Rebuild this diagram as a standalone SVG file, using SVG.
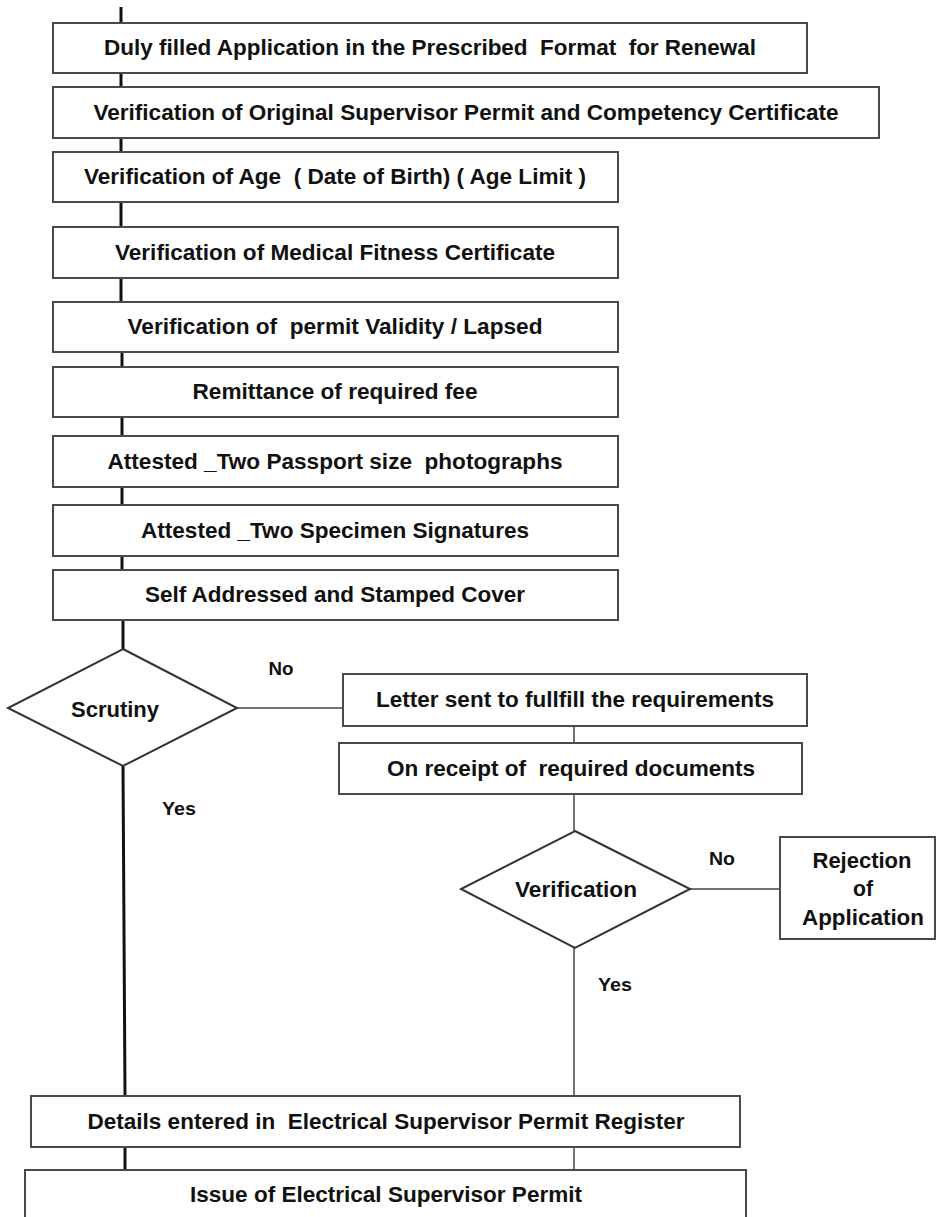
<svg xmlns="http://www.w3.org/2000/svg" width="936" height="1217" viewBox="0 0 936 1217" xml:space="preserve">
<style>
.box{fill:#fff;stroke:#4a4a4a;stroke-width:2}
.dia{fill:#fff;stroke:#333;stroke-width:2}
.thick{stroke:#111;stroke-width:3;fill:none}
.thin{stroke:#444;stroke-width:1.5;fill:none}
text{font-family:"Liberation Sans",Arial,sans-serif;font-size:22px;font-weight:bold;fill:#111;text-anchor:middle;white-space:pre}
</style>
<rect width="936" height="1217" fill="#fff"/>
<g id="connectors">
<line class="thick" x1="121" y1="7" x2="121" y2="23"/>
<line class="thick" x1="121" y1="73" x2="121" y2="87"/>
<line class="thick" x1="121" y1="138" x2="121" y2="152"/>
<line class="thick" x1="121" y1="202" x2="121" y2="227"/>
<line class="thick" x1="121" y1="278" x2="121" y2="302"/>
<line class="thick" x1="122" y1="352" x2="122" y2="367"/>
<line class="thick" x1="122" y1="417" x2="122" y2="436"/>
<line class="thick" x1="122" y1="487" x2="122" y2="505"/>
<line class="thick" x1="122" y1="556" x2="122" y2="570"/>
<line class="thick" x1="123" y1="620" x2="123" y2="649"/>
<polyline class="thick" points="123,766 124,930 125,1096"/>
<line class="thick" x1="125" y1="1147" x2="125" y2="1170"/>
<line class="thin" x1="237" y1="708" x2="343" y2="708"/>
<line class="thin" x1="574" y1="726" x2="574" y2="743"/>
<line class="thin" x1="574" y1="794" x2="574" y2="831"/>
<line class="thin" x1="690" y1="889" x2="780" y2="889"/>
<line class="thin" x1="574" y1="948" x2="574" y2="1096"/>
<line class="thin" x1="574" y1="1147" x2="574" y2="1170"/>
</g>
<g id="n1"><rect class="box" x="53" y="23" width="754" height="50"/><text x="430" y="55" textLength="652" lengthAdjust="spacingAndGlyphs">Duly filled Application in the Prescribed  Format  for Renewal</text></g>
<g id="n2"><rect class="box" x="53" y="87" width="826" height="51"/><text x="466" y="120" textLength="745" lengthAdjust="spacingAndGlyphs">Verification of Original Supervisor Permit and Competency Certificate</text></g>
<g id="n3"><rect class="box" x="53" y="152" width="565" height="50"/><text x="335" y="184" textLength="502" lengthAdjust="spacingAndGlyphs">Verification of Age  ( Date of Birth) ( Age Limit )</text></g>
<g id="n4"><rect class="box" x="53" y="227" width="565" height="51"/><text x="335" y="260" textLength="440" lengthAdjust="spacingAndGlyphs">Verification of Medical Fitness Certificate</text></g>
<g id="n5"><rect class="box" x="53" y="302" width="565" height="50"/><text x="335" y="334" textLength="415" lengthAdjust="spacingAndGlyphs">Verification of  permit Validity / Lapsed</text></g>
<g id="n6"><rect class="box" x="53" y="367" width="565" height="50"/><text x="335" y="399" textLength="285" lengthAdjust="spacingAndGlyphs">Remittance of required fee</text></g>
<g id="n7"><rect class="box" x="53" y="436" width="565" height="51"/><text x="335" y="469" textLength="455" lengthAdjust="spacingAndGlyphs">Attested _Two Passport size  photographs</text></g>
<g id="n8"><rect class="box" x="53" y="505" width="565" height="51"/><text x="335" y="538" textLength="388" lengthAdjust="spacingAndGlyphs">Attested _Two Specimen Signatures</text></g>
<g id="n9"><rect class="box" x="53" y="570" width="565" height="50"/><text x="335" y="602" textLength="380" lengthAdjust="spacingAndGlyphs">Self Addressed and Stamped Cover</text></g>
<g id="scrutiny"><polygon class="dia" points="123,649 237,708 123,766 8,708"/><text x="115" y="717" textLength="88" lengthAdjust="spacingAndGlyphs">Scrutiny</text></g>
<g id="label-no1"><text x="281" y="675" textLength="25" lengthAdjust="spacingAndGlyphs" style="font-size:18px">No</text></g>
<g id="label-yes1"><text x="179" y="815" textLength="34" lengthAdjust="spacingAndGlyphs" style="font-size:18px">Yes</text></g>
<g id="letter"><rect class="box" x="343" y="674" width="464" height="52"/><text x="575" y="707" textLength="398" lengthAdjust="spacingAndGlyphs">Letter sent to fullfill the requirements</text></g>
<g id="receipt"><rect class="box" x="339" y="743" width="463" height="51"/><text x="571" y="776" textLength="368" lengthAdjust="spacingAndGlyphs">On receipt of  required documents</text></g>
<g id="verification"><polygon class="dia" points="575,831 690,889 575,948 461,889"/><text x="576" y="897" textLength="122" lengthAdjust="spacingAndGlyphs">Verification</text></g>
<g id="label-no2"><text x="722" y="865" textLength="26" lengthAdjust="spacingAndGlyphs" style="font-size:18px">No</text></g>
<g id="label-yes2"><text x="615" y="991" textLength="34" lengthAdjust="spacingAndGlyphs" style="font-size:18px">Yes</text></g>
<g id="rejection"><rect class="box" x="780" y="837" width="155" height="102"/><text x="862" y="868" textLength="99" lengthAdjust="spacingAndGlyphs">Rejection</text><text x="863" y="896" textLength="20" lengthAdjust="spacingAndGlyphs">of</text><text x="863" y="925" textLength="122" lengthAdjust="spacingAndGlyphs">Application</text></g>
<g id="details"><rect class="box" x="31" y="1096" width="709" height="51"/><text x="386" y="1129" textLength="597" lengthAdjust="spacingAndGlyphs">Details entered in  Electrical Supervisor Permit Register</text></g>
<g id="issue"><rect class="box" x="25" y="1170" width="721" height="60"/><text x="386" y="1202" textLength="392" lengthAdjust="spacingAndGlyphs">Issue of Electrical Supervisor Permit</text></g>
</svg>
